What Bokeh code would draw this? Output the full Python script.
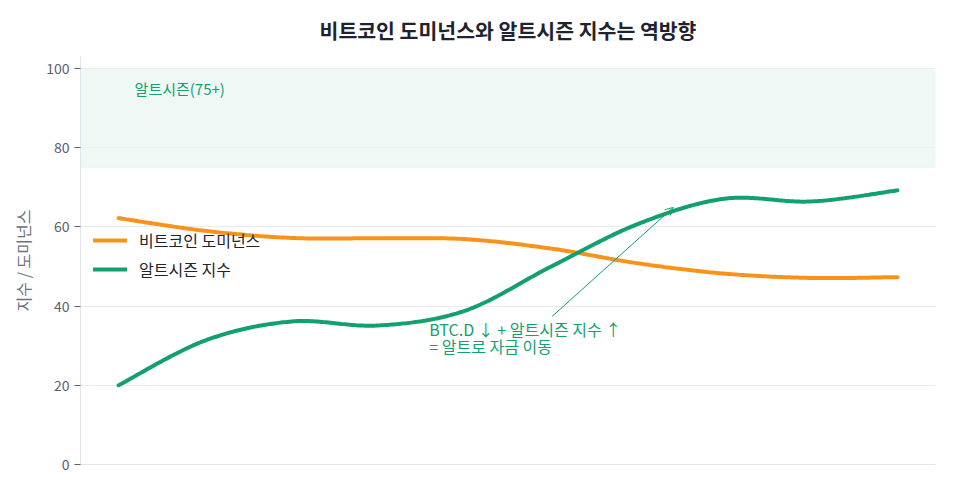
import numpy as np
from bokeh.plotting import figure
from bokeh.models import BoxAnnotation, Label, Arrow, OpenHead, Legend, LegendItem, Range1d, FixedTicker
from bokeh.embed import file_html
from bokeh.resources import INLINE

# ---- data ----
periods = list(range(10))
btc_dominance = [62.2, 59.0, 57.2, 57.1, 56.9, 54.5, 50.8, 48.2, 47.1, 47.3]
altseason_index = [20.0, 31.3, 36.1, 35.1, 38.8, 50.0, 60.7, 67.1, 66.4, 69.2]
y_ticks = [0, 20, 40, 60, 80, 100]
band_low, band_high = 75, 100

TITLE = "비트코인 도미넌스와 알트시즌 지수는 역방향"
Y_LABEL = "지수 / 도미넌스"
NAME_BTC = "비트코인 도미넌스"
NAME_ALT = "알트시즌 지수"
BAND_LABEL = "알트시즌(75+)"
NOTE_1 = "BTC.D ↓ + 알트시즌 지수 ↑"
NOTE_2 = "= 알트로 자금 이동"
arrow_from = (5.01, 37.4)
arrow_to = (6.41, 64.9)

ORANGE = "#f7931a"
GREEN = "#139f6e"
FONT = "Noto Sans CJK KR"


def smooth(xs, ys, n=40):
    """Catmull-Rom rendering path through the given points (display only)."""
    xs = np.asarray(xs, float)
    ys = np.asarray(ys, float)
    px = np.concatenate([[xs[0]], xs, [xs[-1]]])
    py = np.concatenate([[ys[0]], ys, [ys[-1]]])
    ox, oy = [], []
    t = np.linspace(0, 1, n, endpoint=False)
    for i in range(1, len(px) - 2):
        for arr, out in ((px, ox), (py, oy)):
            p0, p1, p2, p3 = arr[i - 1], arr[i], arr[i + 1], arr[i + 2]
            out.extend(0.5 * ((2 * p1) + (-p0 + p2) * t
                              + (2 * p0 - 5 * p1 + 4 * p2 - p3) * t ** 2
                              + (-p0 + 3 * p1 - 3 * p2 + p3) * t ** 3))
    ox.append(xs[-1])
    oy.append(ys[-1])
    return ox, oy


p = figure(width=955, height=493, output_backend="svg", toolbar_location=None,
           x_range=Range1d(-0.44, 9.44), y_range=Range1d(0, 103),
           min_border_left=80, min_border_right=20, min_border_top=56, min_border_bottom=29)

p.title.text = TITLE
p.title.align = "center"
p.title.text_font = FONT
p.title.text_font_size = "20.5px"
p.title.text_font_style = "bold"
p.title.text_color = "#1f2330"
p.title.standoff = 23

p.outline_line_color = None
p.background_fill_color = "white"
p.border_fill_color = "white"

p.xaxis.ticker = FixedTicker(ticks=[])
p.xaxis.axis_line_color = "#e1e4ea"
p.xaxis.major_tick_line_color = None
p.xaxis.minor_tick_line_color = None
p.xgrid.visible = False

p.yaxis.ticker = y_ticks
p.yaxis.axis_label = Y_LABEL
p.yaxis.axis_label_text_font = FONT
p.yaxis.axis_label_text_font_size = "16px"
p.yaxis.axis_label_text_font_style = "normal"
p.yaxis.axis_label_text_color = "#6b7280"
p.yaxis.axis_label_standoff = 8
p.yaxis.major_label_text_font = FONT
p.yaxis.major_label_text_font_size = "14px"
p.yaxis.major_label_text_color = "#5a6072"
p.yaxis.axis_line_color = "#e1e4ea"
p.yaxis.major_tick_line_color = "#5a6072"
p.yaxis.major_tick_out = 6
p.yaxis.major_tick_in = 0
p.yaxis.minor_tick_line_color = None
p.yaxis.major_label_standoff = 5

p.ygrid.ticker = y_ticks
p.ygrid.grid_line_color = "#e9ebf0"
p.ygrid.grid_line_width = 1

band = BoxAnnotation(bottom=band_low, top=band_high, fill_color="#e6f5ee", fill_alpha=0.65,
                     line_color="#d8ede3", line_width=1, level="underlay")
p.add_layout(band)

bx, by = smooth(periods, btc_dominance)
ax, ay = smooth(periods, altseason_index)
r_btc = p.line(bx, by, line_color=ORANGE, line_width=4, line_cap="round")
r_alt = p.line(ax, ay, line_color=GREEN, line_width=4, line_cap="round")

legend = Legend(items=[LegendItem(label=NAME_BTC, renderers=[r_btc]),
                       LegendItem(label=NAME_ALT, renderers=[r_alt])],
                location=(13, 183), orientation="vertical",
                glyph_width=34, glyph_height=20, label_height=20, spacing=5,
                label_standoff=12, padding=0, margin=0,
                border_line_color=None, background_fill_alpha=0,
                label_text_font=FONT, label_text_font_size="16px", label_text_color="#1f2330")
p.add_layout(legend, "center")

p.add_layout(Label(x=0.185, y=95, text=BAND_LABEL, text_font=FONT, text_font_size="15px",
                   text_color=GREEN, text_baseline="middle", text_align="left"))
p.add_layout(Label(x=3.59, y=34.3, text=NOTE_1, text_font=FONT, text_font_size="16px",
                   text_color=GREEN, text_baseline="middle", text_align="left"))
p.add_layout(Label(x=3.59, y=29.8, text=NOTE_2, text_font=FONT, text_font_size="16px",
                   text_color=GREEN, text_baseline="middle", text_align="left"))
p.add_layout(Arrow(end=OpenHead(size=8, line_color=GREEN, line_width=1),
                   x_start=arrow_from[0], y_start=arrow_from[1],
                   x_end=arrow_to[0], y_end=arrow_to[1],
                   line_color=GREEN, line_width=1))

open("out.html", "w").write(file_html(p, INLINE))
